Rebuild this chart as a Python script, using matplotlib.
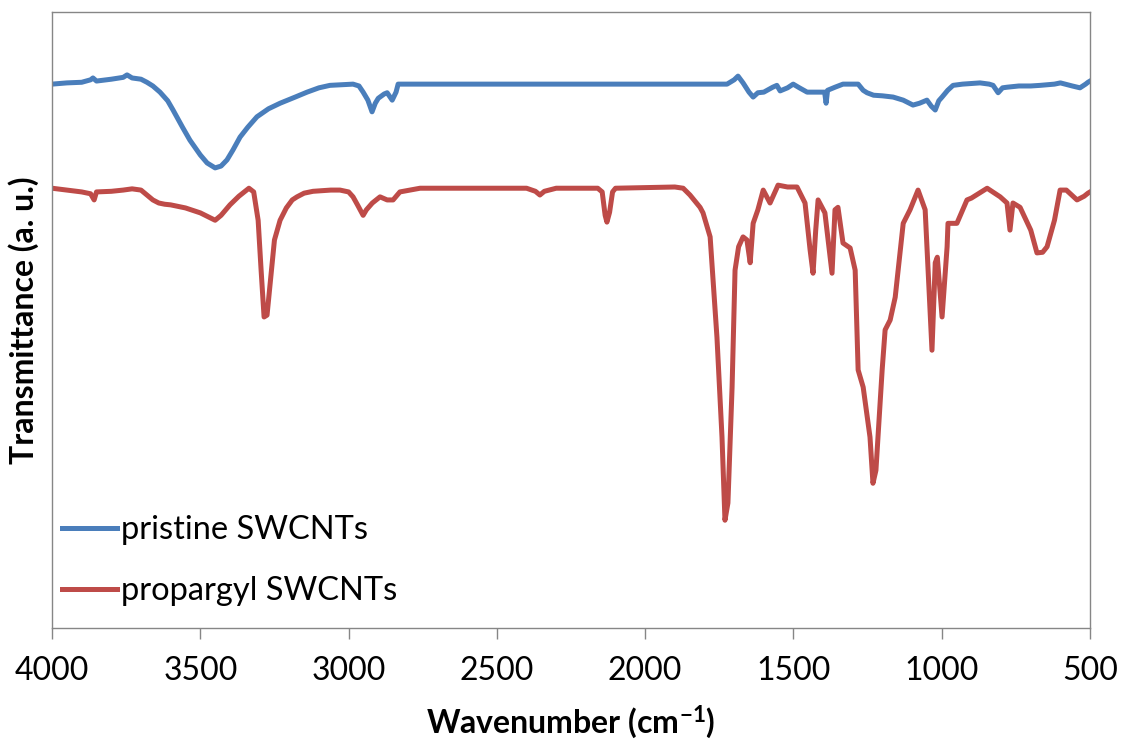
import matplotlib
matplotlib.use("Agg")
import matplotlib.pyplot as plt

plt.rcParams['font.family'] = ['Lato', 'DejaVu Sans']
plt.rcParams['mathtext.default'] = 'regular'

# Pristine SWCNTs spectrum (wavenumber, transmittance a.u.)
pristine_wn = [4000, 3950, 3900, 3870, 3862, 3850, 3800, 3760, 3747, 3730, 3700, 3680,
               3660, 3636, 3610, 3592, 3560, 3535, 3500, 3477, 3450, 3430, 3410, 3390,
               3366, 3340, 3309, 3270, 3231, 3180, 3140, 3100, 3063, 2985, 2965, 2951,
               2935, 2921, 2910, 2900, 2880, 2870, 2853, 2840, 2833, 2000, 1724, 1700,
               1687, 1670, 1650, 1636, 1620, 1600, 1570, 1556, 1545, 1520, 1501, 1480,
               1454, 1395, 1390, 1385, 1360, 1333, 1282, 1265, 1252, 1230, 1200, 1164,
               1130, 1097, 1075, 1050, 1035, 1022, 1010, 999, 980, 962, 930, 871, 840,
               827, 810, 795, 780, 740, 700, 668, 620, 600, 560, 534, 515, 507, 500]
pristine_t = [88.3, 88.5, 88.6, 89.0, 89.3, 88.8, 89.1, 89.4, 89.8, 89.3, 89.1, 88.6,
              88.0, 87.0, 85.6, 84.1, 81.3, 79.2, 76.8, 75.5, 74.7, 75.0, 76.0, 77.6,
              79.7, 81.3, 83.0, 84.3, 85.2, 86.2, 87.0, 87.7, 88.1, 88.3, 88.0, 87.0,
              85.7, 83.8, 85.2, 86.0, 86.7, 86.9, 85.7, 87.0, 88.3, 88.3, 88.3, 89.0,
              89.6, 88.5, 87.0, 86.2, 86.9, 87.0, 87.8, 88.1, 87.2, 87.7, 88.3, 87.7,
              87.0, 87.0, 85.2, 87.3, 87.8, 88.3, 88.3, 87.3, 86.9, 86.5, 86.4, 86.2,
              85.7, 84.9, 85.2, 85.7, 84.7, 84.1, 85.6, 86.2, 87.3, 88.1, 88.3, 88.5, 88.3,
              88.1, 86.9, 87.7, 87.8, 88.0, 88.0, 88.1, 88.3, 88.5, 88.0, 87.7, 88.3, 88.6, 88.8]

# Propargyl SWCNTs spectrum
propargyl_wn = [4000, 3950, 3900, 3870, 3858, 3850, 3800, 3760, 3730, 3700, 3680, 3660,
                3640, 3620, 3600, 3550, 3500, 3450, 3430, 3400, 3370, 3336, 3320, 3305,
                3295, 3285, 3275, 3265, 3250, 3231, 3210, 3190, 3174, 3150, 3120, 3060,
                3029, 3000, 2985, 2970, 2951, 2940, 2920, 2894, 2870, 2850, 2827, 2759,
                2400, 2370, 2355, 2340, 2300, 2160, 2145, 2135, 2129, 2120, 2110, 2100,
                1900, 1872, 1849, 1815, 1805, 1781, 1775, 1758, 1741, 1731, 1721, 1707,
                1697, 1685, 1670, 1657, 1646, 1636, 1620, 1602, 1579, 1552, 1520, 1488,
                1461, 1444, 1434, 1425, 1417, 1394, 1370, 1360, 1350, 1333, 1309, 1292,
                1282, 1265, 1242, 1232, 1222, 1201, 1191, 1174, 1157, 1130, 1107, 1080,
                1056, 1046, 1033, 1022, 1015, 999, 982, 979, 949, 915, 900, 847, 803,
                780, 770, 760, 736, 700, 679, 660, 645, 620, 601, 580, 544, 520, 507, 500]
propargyl_t = [71.4, 71.1, 70.8, 70.5, 69.5, 70.8, 70.9, 71.1, 71.3, 71.1, 70.3, 69.5,
               69.0, 68.8, 68.7, 68.2, 67.4, 66.2, 67.0, 68.7, 70.1, 71.4, 70.8, 66.2,
               58.1, 50.5, 50.8, 55.7, 63.0, 66.2, 68.2, 69.5, 70.0, 70.6, 70.9, 71.1,
               71.1, 70.8, 70.0, 68.7, 67.0, 67.9, 69.0, 70.0, 69.5, 69.5, 70.8, 71.4,
               71.4, 70.9, 70.3, 70.9, 71.4, 71.4, 70.8, 67.0, 65.9, 67.5, 70.8, 71.4,
               71.6, 71.4, 70.3, 68.3, 67.4, 63.5, 59.3, 47.2, 31.0, 17.5, 20.3, 39.1,
               58.1, 61.9, 63.5, 63.0, 59.3, 65.7, 67.9, 71.1, 69.0, 71.9, 71.6, 71.6,
               69.0, 61.4, 57.6, 64.6, 69.5, 67.4, 57.6, 67.9, 68.3, 62.5, 61.7, 58.1,
               41.9, 39.1, 31.0, 23.5, 25.6, 41.9, 48.4, 50.0, 53.7, 65.7, 67.9, 71.1,
               67.9, 58.1, 45.1, 59.3, 60.2, 50.5, 61.9, 65.7, 65.7, 69.5, 69.8, 71.4, 70.0,
               69.0, 64.6, 69.0, 68.3, 64.6, 60.9, 61.0, 61.9, 66.2, 71.1, 71.1, 69.5, 70.1, 70.6, 70.8]

blue = "#4A7EBB"
red = "#BE4B48"
grey = "#868686"

fig = plt.figure(figsize=(11.21, 7.49), dpi=100)
ax = fig.add_axes([0.0464, 0.1615, 0.926, 0.8224])

ax.plot(pristine_wn, pristine_t, color=blue, lw=3.6, label="pristine SWCNTs",
        solid_joinstyle='round')
ax.plot(propargyl_wn, propargyl_t, color=red, lw=3.6, label="propargyl SWCNTs",
        solid_joinstyle='round')

ax.set_xlim(4000, 500)
ax.set_ylim(0, 100)
ax.set_xticks([4000, 3500, 3000, 2500, 2000, 1500, 1000, 500])
ax.set_yticks([])
ax.tick_params(axis='x', direction='out', length=8, width=1, color=grey,
               labelsize=23, pad=12)
for s in ax.spines.values():
    s.set_color(grey)
    s.set_linewidth(1)

ax.set_xlabel(r"Wavenumber (cm$^{\mathregular{-1}}$)", fontsize=23, fontweight='bold')
ax.xaxis.set_label_coords(0.5, -0.122)
ax.set_ylabel("Transmittance (a. u.)", fontsize=23, fontweight='bold')
ax.yaxis.set_label_coords(-0.0125, 0.5)

ax.legend(loc='lower left', bbox_to_anchor=(0.0096, 0.035), frameon=False,
          fontsize=23.5, handlelength=1.7, handletextpad=0.1, borderpad=0,
          borderaxespad=0, labelspacing=0.95)

fig.savefig("out.png", dpi=100)
